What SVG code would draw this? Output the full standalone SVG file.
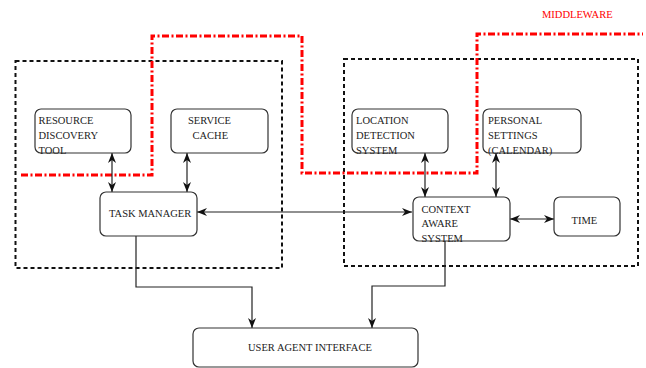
<svg xmlns="http://www.w3.org/2000/svg" width="646" height="368" viewBox="0 0 646 368">
  <style>
    .node rect { fill: #fff; stroke: #333; stroke-width: 1.2; }
    .node text, .label { font-family: "Liberation Serif", "Times New Roman", serif; font-size: 10.5px; fill: #222; }
    .group { fill: none; stroke: #111; stroke-width: 2; stroke-dasharray: 4 3; }
    .mw { fill: none; stroke: #f00; stroke-width: 3; stroke-dasharray: 7 2.5 2 2.5; }
    .conn path { fill: none; stroke: #222; stroke-width: 1.2; }
  </style>
  <defs>
    <marker id="arr" viewBox="0 0 10 8" refX="10" refY="4" markerWidth="10" markerHeight="8" markerUnits="userSpaceOnUse" orient="auto-start-reverse">
      <path d="M0,0 L10,4 L0,8 L3,4 Z" fill="#111"/>
    </marker>
  </defs>
  <rect width="646" height="368" fill="#fff"/>

  <!-- subsystem boundaries -->
  <rect class="group" x="15.5" y="61" width="266.5" height="207"/>
  <rect class="group" x="344" y="59" width="294" height="207"/>

  <!-- middleware boundary -->
  <polyline class="mw" points="21,175 152,175 152,36 302,36 302,173 477,173 477,34 643,34"/>
  <text class="label" x="542" y="18" style="fill:#f00">MIDDLEWARE</text>

  <g class="conn">
    <path d="M112,153 V192" marker-start="url(#arr)" marker-end="url(#arr)"/>
    <path d="M187,153 V192" marker-start="url(#arr)" marker-end="url(#arr)"/>
    <path d="M425,153 V197" marker-start="url(#arr)" marker-end="url(#arr)"/>
    <path d="M496,153 V197" marker-start="url(#arr)" marker-end="url(#arr)"/>
    <path d="M197,212 H412" marker-start="url(#arr)" marker-end="url(#arr)"/>
    <path d="M510,219 H554" marker-start="url(#arr)" marker-end="url(#arr)"/>
    <path d="M136,236 V287 H252 V328" marker-end="url(#arr)"/>
    <path d="M445,241 V286 H372 V328" marker-end="url(#arr)"/>
  </g>

  <g id="resource-discovery" class="node">
    <rect x="35" y="109" width="96" height="44" rx="6"/>
    <text x="38.5" y="124">RESOURCE</text>
    <text x="38.5" y="139">DISCOVERY</text>
    <text x="38.5" y="153.5">TOOL</text>
  </g>
  <g id="service-cache" class="node">
    <rect x="171" y="109" width="97" height="44" rx="6"/>
    <text x="188" y="124">SERVICE</text>
    <text x="192.5" y="139">CACHE</text>
  </g>
  <g id="location-detection" class="node">
    <rect x="352" y="109" width="96" height="44" rx="6"/>
    <text x="356" y="124">LOCATION</text>
    <text x="356" y="139">DETECTION</text>
    <text x="356" y="153.5">SYSTEM</text>
  </g>
  <g id="personal-settings" class="node">
    <rect x="483" y="109" width="98" height="44" rx="6"/>
    <text x="488" y="124">PERSONAL</text>
    <text x="488" y="139">SETTINGS</text>
    <text x="488" y="153.5">(CALENDAR)</text>
  </g>
  <g id="task-manager" class="node">
    <rect x="100" y="192" width="97" height="44" rx="6"/>
    <text x="109" y="217">TASK MANAGER</text>
  </g>
  <g id="context-aware" class="node">
    <rect x="413" y="197" width="97" height="44" rx="6"/>
    <text x="421.5" y="212.5">CONTEXT</text>
    <text x="421.5" y="226.5">AWARE</text>
    <text x="421.5" y="241.5">SYSTEM</text>
  </g>
  <g id="time" class="node">
    <rect x="554" y="197" width="66" height="39" rx="6"/>
    <text x="571.5" y="223.5">TIME</text>
  </g>
  <g id="user-agent-interface" class="node">
    <rect x="193" y="328" width="225" height="39" rx="6"/>
    <text x="248" y="350.5">USER AGENT INTERFACE</text>
  </g>
</svg>
